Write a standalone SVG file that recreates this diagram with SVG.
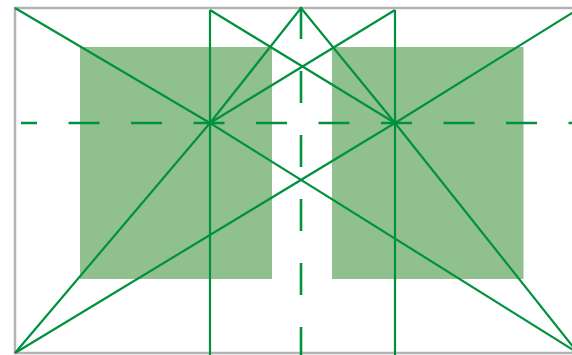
<svg xmlns="http://www.w3.org/2000/svg" width="572" height="355" viewBox="0 0 572 355">
<style>
.g{stroke:#00913f;stroke-width:2.2;fill:none;stroke-linejoin:miter}
.dh{stroke-width:2.6;stroke-dasharray:31 31.5;stroke-dashoffset:15}
.dv{stroke-width:2.6;stroke-dasharray:32 32}
.blk{fill:#91c08f}
</style>
<rect width="572" height="355" fill="#ffffff"/>
<g id="frame"><rect x="15" y="8" width="580" height="345" fill="none" stroke="#b3b3b3" stroke-width="2.5"/></g>
<g id="block-left"><rect class="blk" x="80" y="47" width="192" height="232"/></g>
<g id="block-right"><rect class="blk" x="332" y="47" width="191.5" height="232"/></g>
<g id="connectors">
<polyline class="g" points="15,8 210,123 578,353"/>
<polyline class="g" points="15,353 395,123 580,8"/>
<polyline class="g" points="15,353 210,123 301,8 395,123 578,353"/>
<line class="g" x1="210" y1="10" x2="395" y2="123"/>
<line class="g" x1="395" y1="10" x2="210" y2="123"/>
<line class="g" x1="210" y1="10" x2="210" y2="355"/>
<line class="g" x1="395" y1="10" x2="395" y2="355"/>
<line class="g dh" x1="21" y1="123" x2="572" y2="123"/>
<line class="g dv" x1="301" y1="7" x2="301" y2="355"/>
</g>
</svg>
